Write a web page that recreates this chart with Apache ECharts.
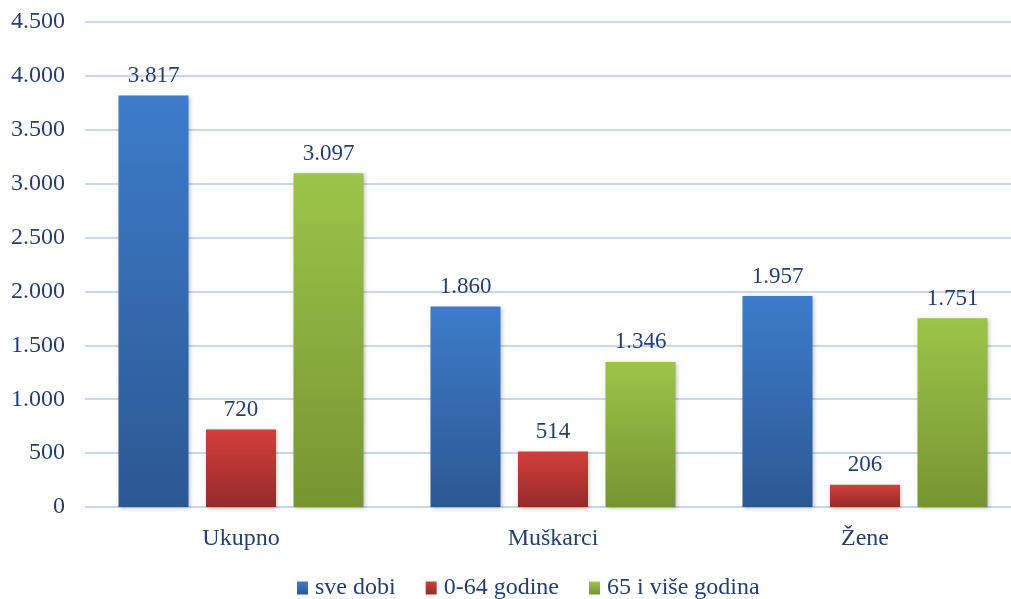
<!DOCTYPE html>
<html>
<head>
<meta charset="utf-8">
<script src="https://cdn.jsdelivr.net/npm/echarts@6/dist/echarts.min.js"></script>
<style>
  html, body { margin: 0; padding: 0; background: #fff; overflow: hidden; }
  #main { width: 1021px; height: 599px; }
</style>
</head>
<body>
<div id="main"></div>
<script>
// podaci
var categories = ['Ukupno', 'Muškarci', 'Žene']
var seriesNames = ['sve dobi', '0-64 godine', '65 i više godina']
var sveDobi = [3817, 1860, 1957]
var do64 = [720, 514, 206]
var od65 = [3097, 1346, 1751]

var textColor = '#243F6E'
var font = '"Liberation Serif", "Times New Roman", serif'

function fmt(v) {
  return String(v).replace(/\B(?=(\d{3})+(?!\d))/g, '.')
}

function grad(top, bottom) {
  return new echarts.graphic.LinearGradient(0, 0, 0, 1, [
    { offset: 0, color: top },
    { offset: 1, color: bottom }
  ])
}

function barSeries(name, data, top, bottom) {
  return {
    name: name,
    type: 'bar',
    data: data,
    barWidth: 70,
    barGap: '25%',
    itemStyle: {
      color: grad(top, bottom),
      shadowColor: 'rgba(0,0,0,0.25)',
      shadowBlur: 4,
      shadowOffsetX: 1,
      shadowOffsetY: 1
    },
    label: {
      show: true,
      position: 'top',
      distance: 8,
      color: textColor,
      fontFamily: font,
      fontSize: 23,
      formatter: function (p) { return fmt(p.value) }
    }
  }
}

var chart = echarts.init(document.getElementById('main'))
var option = {
  animation: false,
  textStyle: { fontFamily: font },
  grid: { left: 85, right: 0, top: 22, bottom: 92 },
  legend: {
    top: 571,
    left: 292,
    itemWidth: 11,
    itemHeight: 13,
    itemGap: 30,
    icon: 'rect',
    textStyle: { color: textColor, fontFamily: font, fontSize: 24, padding: [0, 0, 0, 2] },
    data: seriesNames
  },
  xAxis: {
    type: 'category',
    data: categories,
    axisLine: { show: false },
    axisTick: { show: false },
    axisLabel: { color: textColor, fontFamily: font, fontSize: 24, margin: 20 }
  },
  yAxis: {
    type: 'value',
    min: 0,
    max: 4500,
    interval: 500,
    axisLine: { show: false },
    axisTick: { show: false },
    splitLine: { lineStyle: { color: '#C9D8EE', width: 2 } },
    axisLabel: {
      color: textColor,
      fontFamily: font,
      fontSize: 24,
      margin: 20,
      formatter: function (v) { return fmt(v) }
    }
  },
  series: [
    barSeries(seriesNames[0], sveDobi, '#3D7CCA', '#2C5892'),
    barSeries(seriesNames[1], do64, '#D23F3B', '#952B29'),
    barSeries(seriesNames[2], od65, '#9DC449', '#769532')
  ]
}
chart.setOption(option)
</script>
</body>
</html>
